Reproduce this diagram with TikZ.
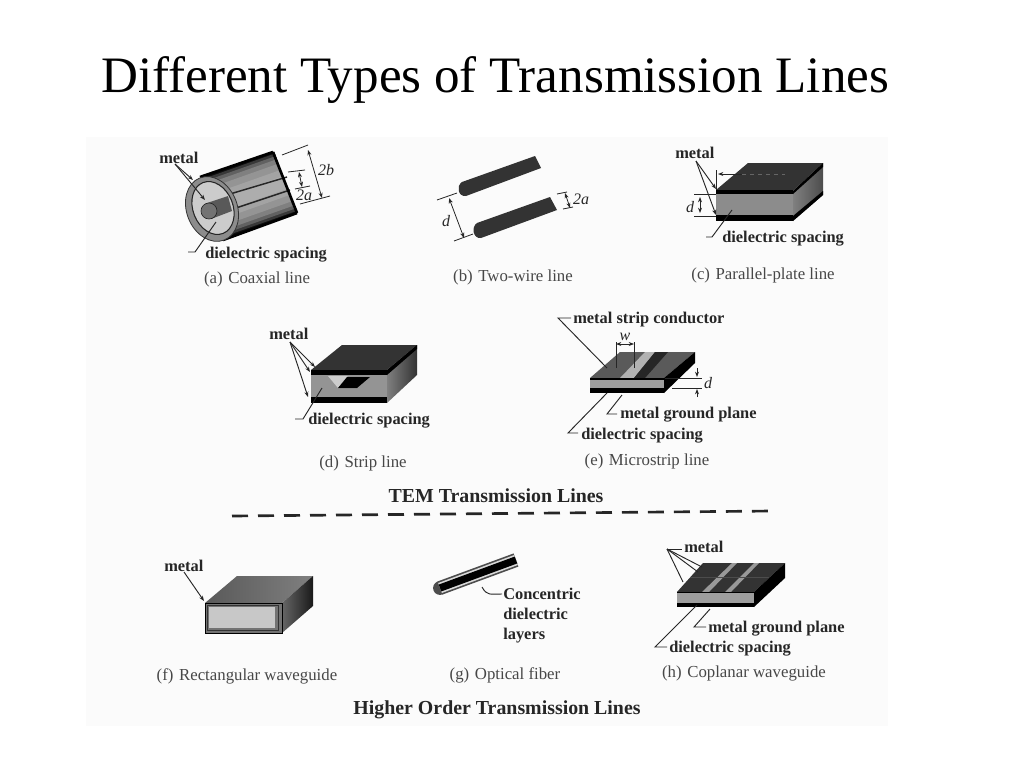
\documentclass[tikz,border=0pt]{standalone}
\usepackage{fontspec}
\setmainfont{Liberation Serif}
\usetikzlibrary{arrows.meta}
\definecolor{panelc}{HTML}{FBFBFB}
\definecolor{inkc}{HTML}{262626}
\definecolor{darkm}{HTML}{333333}
\definecolor{midm}{HTML}{5A5A5A}
\definecolor{sidem}{HTML}{7E7E7E}
\definecolor{diel}{HTML}{B0B0B0}
\tikzset{
  blbl/.style={font=\fontsize{12.3}{14}\selectfont\bfseries,text=inkc,inner sep=0pt,anchor=base west,yshift=-0.75pt},
  capt/.style={font=\fontsize{12.6}{14}\selectfont,text=inkc!85,inner sep=0pt,anchor=base,yshift=-1pt},
  heading/.style={font=\fontsize{14.9}{16}\selectfont\bfseries,text=inkc,inner sep=0pt,anchor=base,yshift=-0.75pt},
  dimtxt/.style={font=\fontsize{12}{14}\selectfont\itshape,text=inkc,inner sep=0pt},
  leader/.style={draw=inkc,line width=0.7pt},
  leadarrow/.style={draw=inkc,line width=0.7pt,-{Stealth[length=4pt,width=3pt]}},
  dimline/.style={draw=inkc,line width=0.6pt},
  dimarrow/.style={draw=inkc,line width=0.6pt,{Stealth[length=4pt,width=3pt]}-{Stealth[length=4pt,width=3pt]}},
}
\begin{document}
\begin{tikzpicture}[x=0.75pt,y=-0.75pt]
\useasboundingbox (0,0) rectangle (1024,768);
\fill[white] (0,0) rectangle (1024,768);
\fill[panelc] (86,137) rectangle (888,726);
\node[inner sep=0pt,anchor=base west,font=\fontsize{38.3}{42}\selectfont] (title) at (101,92) {Different Types of Transmission Lines};

% (a) coaxial
\coordinate (ac1) at (211.5,208.5); \coordinate (ac2) at (285,182.5);
\foreach \wd/\sh in {49/95,46/78,42/62,37/50,30/42,20/36,10/32}
  \draw[black!\sh,line width=\wd pt] (ac1) -- (ac2);
\draw[black!85,line width=1.1pt] (230,194) -- (287,177);
\draw[black!85,line width=1.1pt] (233,209) -- (290,190);
\draw[black,line width=2pt] (200,177) -- (273,152);
\draw[black,line width=2pt] (273,152) -- (297,213);
\draw[black,line width=2pt] (223,240) -- (297,213);
\fill[black!45,draw=black!80,line width=0.6pt] (212,209) circle[x radius=19pt,y radius=25pt,rotate=21.5];
\fill[black!20,draw=black!85,line width=0.8pt] (213,208) circle[x radius=15pt,y radius=20.5pt,rotate=21.5];
\fill[black!65] (207,203) -- (228,196) -- (232,211) -- (211,219) -- cycle;
\fill[black!55,draw=black!85,line width=0.5pt] (209,211) circle[radius=6pt];
\node[blbl] (ametal) at (159,162) {metal};
\coordinate (am1) at (175,164); \coordinate (am2) at (193,180); \coordinate (am3) at (205,200);
\draw[leadarrow] (am1) -- (am2);
\draw[leadarrow] (am1) -- (am3);
\node[blbl] (adiel) at (205,257) {dielectric spacing};
\coordinate (ad1) at (188,252); \coordinate (ad2) at (195,252); \coordinate (ad3) at (216,222);
\draw[leader] (ad3) -- (ad2) -- (ad1);
\coordinate (ab1) at (282,155); \coordinate (ab2) at (308,145);
\coordinate (ab3) at (300,204); \coordinate (ab4) at (330,196);
\coordinate (ab5) at (308,150); \coordinate (ab6) at (322,198);
\draw[dimline] (ab1) -- (ab2); \draw[dimline] (ab3) -- (ab4); \draw[dimarrow] (ab5) -- (ab6);
\node[dimtxt] (a2b) at (326,170) {2b};
\coordinate (aa1) at (288,172); \coordinate (aa2) at (305,170);
\coordinate (aa3) at (295,189); \coordinate (aa4) at (310,186);
\coordinate (aa5) at (299,172); \coordinate (aa6) at (302,187);
\draw[dimline] (aa1) -- (aa2); \draw[dimline] (aa3) -- (aa4); \draw[dimarrow] (aa5) -- (aa6);
\node[dimtxt] (a2a) at (304,195) {2a};
\node[capt] (acap) at (257,282) {(a)\,\,Coaxial line};

% (b) two-wire
\fill[darkm] (462,182) -- (535,156) -- (541,168) -- (466,196) .. controls (458,197) and (456,186) .. (462,182) -- cycle;
\fill[darkm] (477,223) -- (550,197) -- (557,210) -- (481,238) .. controls (473,239) and (471,227) .. (477,223) -- cycle;
\coordinate (bd1) at (437,200); \coordinate (bd2) at (457,193);
\coordinate (bd3) at (454,241); \coordinate (bd4) at (473,234);
\coordinate (bd5) at (449,198); \coordinate (bd6) at (464,238);
\draw[dimline] (bd1) -- (bd2); \draw[dimline] (bd3) -- (bd4); \draw[dimarrow] (bd5) -- (bd6);
\node[dimtxt] (bd) at (446,221) {d};
\coordinate (ba1) at (557,194); \coordinate (ba2) at (567,192);
\coordinate (ba3) at (563,209); \coordinate (ba4) at (573,207);
\coordinate (ba5) at (565,193); \coordinate (ba6) at (570,208);
\draw[dimline] (ba1) -- (ba2); \draw[dimline] (ba3) -- (ba4); \draw[dimarrow] (ba5) -- (ba6);
\node[dimtxt] (b2a) at (581,199) {2a};
\node[capt] (bcap) at (513,280) {(b)\,\,Two-wire line};

% (c) parallel plate
\fill[darkm] (716,190) -- (748,163) -- (823,163) -- (793,191) -- cycle;
\shade[left color=black!50,right color=black!70] (793,191) -- (823,163) -- (823,195) -- (793,221) -- cycle;
\fill[black] (793,191) -- (823,163) -- (823,167) -- (793,194) -- cycle;
\fill[black] (793,216) -- (823,191) -- (823,195) -- (793,221) -- cycle;
\fill[black] (716,190) rectangle (793,221);
\fill[black!45] (716,194) rectangle (793,215);
\coordinate (cm1) at (696,161); \coordinate (cm2) at (716,189); \coordinate (cm3) at (716,215);
\node[blbl] (cmetal) at (675,157) {metal};
\draw[leadarrow] (cm1) -- (cm2); \draw[leadarrow] (cm1) -- (cm3);
\coordinate (cd1) at (694,194); \coordinate (cd2) at (716,194);
\coordinate (cd3) at (694,216); \coordinate (cd4) at (716,216);
\coordinate (cd5) at (700,197); \coordinate (cd6) at (700,213);
\draw[dimline] (cd1) -- (cd2); \draw[dimline] (cd3) -- (cd4); \draw[dimarrow] (cd5) -- (cd6);
\node[dimtxt] (cd) at (690,207) {d};
\coordinate (cw1) at (716,170); \coordinate (cw2) at (716,190);
\coordinate (cw3) at (718,174); \coordinate (cw4) at (742,174); \coordinate (cw5) at (785,174);
\draw[dimline] (cw1) -- (cw2);
\draw[leadarrow] (cw4) -- (cw3);
\draw[draw=black!60,line width=0.5pt,dashed] (cw4) -- (cw5);
\node[blbl] (cdiel) at (722,241) {dielectric spacing};
\coordinate (cd7) at (706,237); \coordinate (cd8) at (712,237); \coordinate (cd9) at (732,210);
\draw[leader] (cd9) -- (cd8) -- (cd7);
\node[capt] (ccap) at (763,278) {(c)\,\,Parallel-plate line};

% (d) strip line
\fill[darkm] (311,370) -- (342,345) -- (417,345) -- (387,370) -- cycle;
\shade[left color=black!50,right color=black!80] (387,370) -- (417,345) -- (417,375) -- (387,403) -- cycle;
\fill[black] (387,370) -- (417,345) -- (417,349) -- (387,375) -- cycle;
\fill[black] (311,370) rectangle (387,403);
\fill[black!42] (311,375) rectangle (387,397);
\fill[black!20] (328,376) -- (338,388) -- (357,388) -- (347,376) -- cycle;
\fill[black] (338,388) -- (347,377) -- (370,377) -- (357,388) -- cycle;
\node[blbl] (dmetal) at (269,338) {metal};
\coordinate (dm0) at (290,342); \coordinate (dm1) at (315,367); \coordinate (dm2) at (310,372); \coordinate (dm3) at (308,397);
\draw[leadarrow] (dm0) -- (dm1); \draw[leadarrow] (dm0) -- (dm2); \draw[leadarrow] (dm0) -- (dm3);
\node[blbl] (ddiel) at (308,423) {dielectric spacing};
\coordinate (dd1) at (295,419); \coordinate (dd2) at (303,419); \coordinate (dd3) at (322,388);
\draw[leader] (dd3) -- (dd2) -- (dd1);
\node[capt] (dcap) at (363,466) {(d)\,\,Strip line};

% (e) microstrip
\fill[midm] (590,378) -- (620,352) -- (695,352) -- (664,378) -- cycle;
\fill[black!30] (620,378) -- (634,378) -- (655,352) -- (645,352) -- cycle;
\fill[black!85] (634,378) -- (645,378) -- (668,352) -- (655,352) -- cycle;
\fill[black] (664,378) -- (695,352) -- (695,363) -- (664,393) -- cycle;
\fill[black] (590,378) rectangle (664,393);
\fill[diel!90!black] (590,380) rectangle (664,388);
\coordinate (et1) at (558,318); \coordinate (et2) at (571,318); \coordinate (et3) at (607,368);
\node[blbl] (estrip) at (573,322) {metal strip conductor};
\draw[leader] (et2) -- (et1) -- (et3);
\coordinate (ew1) at (616,342); \coordinate (ew2) at (616,368); \coordinate (ew3) at (634,342); \coordinate (ew4) at (634,368);
\draw[dimline] (ew1) -- (ew2); \draw[dimline] (ew3) -- (ew4);
\coordinate (ew5) at (616,344); \coordinate (ew6) at (634,344);
\draw[dimarrow] (ew5) -- (ew6);
\node[dimtxt] (ew) at (625,337) {w};
\coordinate (ed1) at (665,378); \coordinate (ed2) at (702,378); \coordinate (ed3) at (672,388); \coordinate (ed4) at (702,388);
\draw[dimline] (ed1) -- (ed2); \draw[dimline] (ed3) -- (ed4);
\coordinate (ed5) at (697,368); \coordinate (ed6) at (697,377); \coordinate (ed7) at (697,397); \coordinate (ed8) at (697,389);
\draw[leadarrow] (ed5) -- (ed6); \draw[leadarrow] (ed7) -- (ed8);
\node[dimtxt] (ed) at (708,383) {d};
\node[blbl] (eground) at (620,417) {metal ground plane};
\coordinate (eg1) at (607,414); \coordinate (eg2) at (617,414); \coordinate (eg3) at (622,395);
\draw[leader] (eg3) -- (eg1) -- (eg2);
\node[blbl] (ediel) at (581,438) {dielectric spacing};
\coordinate (ee1) at (568,433); \coordinate (ee2) at (578,433); \coordinate (ee3) at (607,393);
\draw[leader] (ee3) -- (ee1) -- (ee2);
\node[capt] (ecap) at (647,464) {(e)\,\,Microstrip line};

% heading + separator
\node[heading] (tem) at (496,501) {TEM Transmission Lines};
\coordinate (sep1) at (232,516); \coordinate (sep2) at (772,511);
\draw[draw=inkc,line width=2pt,dash pattern=on 12pt off 7.5pt] (sep1) -- (sep2);

% (f) rectangular waveguide
\shade[left color=black!65,right color=black!50] (205,603) -- (237,576) -- (313,576) -- (282,603) -- cycle;
\shade[left color=black!60,right color=black!90] (282,603) -- (313,576) -- (313,606) -- (282,633) -- cycle;
\fill[black!55] (205,603) rectangle (282,633);
\draw[black!80,line width=0.6pt] (207,605) rectangle (278,630);
\fill[diel!70] (209,607) rectangle (275,628);
\draw[black,line width=0.6pt] (205,603) rectangle (282,633);
\node[blbl] (fmetal) at (164,570) {metal};
\coordinate (ff1) at (184,572); \coordinate (ff2) at (204,601);
\draw[leadarrow] (ff1) -- (ff2);
\node[capt] (fcap) at (247,679) {(f)\,\,Rectangular waveguide};

% (g) optical fibre
\coordinate (g1) at (440,588); \coordinate (g2) at (516,560);
\fill[black!70] (440,588) circle[radius=5.2pt];
\draw[black!70,line width=10.5pt] (g1) -- (g2);
\draw[black!15,line width=8pt] (g1) -- (g2);
\draw[black,line width=5.5pt] (g1) -- (g2);
\node[align=left,inner sep=0pt,text=inkc,anchor=north west,font=\fontsize{12.3}{15}\selectfont\bfseries] (gtxt) at (503,588) {Concentric\\dielectric\\layers};
\coordinate (gl1) at (482,587); \coordinate (gl2) at (502,594);
\draw[leader] (gl1) .. controls (487,596) and (490,594) .. (gl2);
\node[capt] (gcap) at (505,678) {(g)\,\,Optical fiber};

% (h) coplanar
\fill[darkm] (677,592) -- (703,563) -- (785,563) -- (754,592) -- cycle;
\fill[black!40] (702,592) -- (709,592) -- (737,563) -- (732,563) -- cycle;
\fill[black!40] (725,592) -- (731,592) -- (759,563) -- (754,563) -- cycle;
\draw[black!70,line width=0.5pt] (690,577) -- (770,577);
\fill[black] (754,592) -- (785,563) -- (785,578) -- (754,607) -- cycle;
\fill[black] (677,592) rectangle (754,607);
\fill[diel!90!black] (677,593) rectangle (754,603);
\node[blbl] (hmetal) at (684,551) {metal};
\coordinate (hm0) at (667,549); \coordinate (hm1) at (682,549); \coordinate (hm2) at (702,567); \coordinate (hm3) at (698,572); \coordinate (hm4) at (683,582);
\draw[leader] (hm0) -- (hm1);
\draw[leader] (hm0) -- (hm2); \draw[leader] (hm0) -- (hm3); \draw[leader] (hm0) -- (hm4);
\node[blbl] (hground) at (708,631) {metal ground plane};
\coordinate (hg1) at (694,627); \coordinate (hg2) at (706,627); \coordinate (hg3) at (710,609);
\draw[leader] (hg3) -- (hg1) -- (hg2);
\node[blbl] (hdiel) at (669,651) {dielectric spacing};
\coordinate (he1) at (655,647); \coordinate (he2) at (667,647); \coordinate (he3) at (697,605);
\draw[leader] (he3) -- (he1) -- (he2);
\node[capt] (hcap) at (744,676) {(h)\,\,Coplanar waveguide};

\node[heading] (hot) at (497,713) {Higher Order Transmission Lines};
\end{tikzpicture}
\end{document}
